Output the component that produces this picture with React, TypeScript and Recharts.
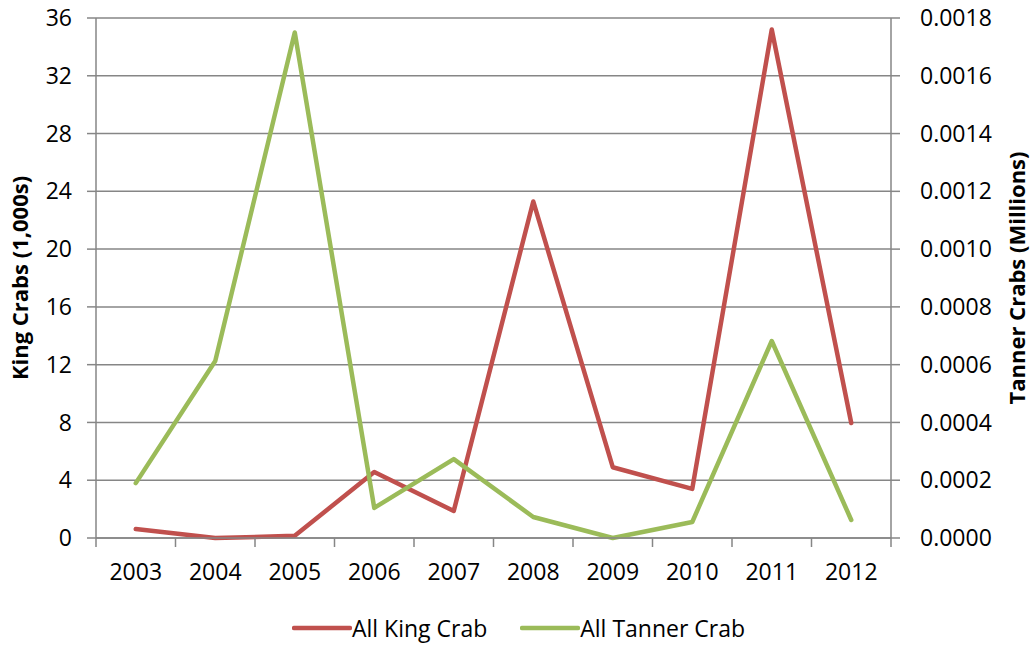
import React from "react";
import { LineChart, Line, XAxis, YAxis, CartesianGrid, Legend } from "recharts";

const years = ["2003", "2004", "2005", "2006", "2007", "2008", "2009", "2010", "2011", "2012"];
const kingCrab = [0.62, 0, 0.15, 4.57, 1.87, 23.3, 4.9, 3.4, 35.2, 7.96];
const tannerCrab = [0.00019, 0.000613, 0.00175, 0.000104, 0.000273, 0.0000727, 0, 0.0000554, 0.000682, 0.0000623];
const kingTicks = [0, 4, 8, 12, 16, 20, 24, 28, 32, 36];
const tannerTicks = [0, 0.0002, 0.0004, 0.0006, 0.0008, 0.001, 0.0012, 0.0014, 0.0016, 0.0018];

const data = years.map((year, i) => ({ year, king: kingCrab[i], tanner: tannerCrab[i] }));

const W = 1031;
const H = 646;
const LEFT_W = 96;
const RIGHT_W = 140;
const STEP = (W - LEFT_W - RIGHT_W) / years.length;
const FONT = "'Open Sans', sans-serif";
const AXIS = "#868686";
const RED = "#C0504D";
const GREEN = "#9BBB59";

const XTick = (props: any) => {
  const { x, y, payload, index } = props;
  const last = index === years.length - 1;
  return (
    <g>
      <line x1={x - STEP / 2} x2={x - STEP / 2} y1={y} y2={y + 9} stroke={AXIS} strokeWidth={1.5} />
      {last && <line x1={x + STEP / 2} x2={x + STEP / 2} y1={y} y2={y + 9} stroke={AXIS} strokeWidth={1.5} />}
      <text x={x} y={y + 26} dy="0.71em" textAnchor="middle" fontSize={23} fontFamily={FONT} fill="#000">
        {payload.value}
      </text>
    </g>
  );
};

const LegendContent = () => (
  <div style={{ height: 56, display: "flex", justifyContent: "center", alignItems: "flex-end", fontFamily: FONT, fontSize: 23, paddingLeft: 6 }}>
    {[
      { name: "All King Crab", color: RED },
      { name: "All Tanner Crab", color: GREEN },
    ].map((it, i) => (
      <div key={it.name} style={{ display: "flex", alignItems: "center", marginLeft: i ? 33 : 0, height: 36 }}>
        <svg width={60} height={10}>
          <line x1={2} x2={58} y1={5} y2={5} stroke={it.color} strokeWidth={4.5} strokeLinecap="round" />
        </svg>
        <span style={{ color: "#000" }}>{it.name}</span>
      </div>
    ))}
  </div>
);

const titleStyle = { fontFamily: FONT, fontSize: 22, fontWeight: 700, fill: "#000", textAnchor: "middle" as const };

export default function App() {
  return (
    <div>
      <style>{`body{margin:0}`}</style>
      <LineChart width={W} height={H} data={data} margin={{ top: 18, right: 0, bottom: 0, left: 0 }}>
        <CartesianGrid vertical={false} stroke={AXIS} strokeWidth={1.5} yAxisId="left" />
        <XAxis
          dataKey="year"
          height={52}
          tick={<XTick />}
          tickLine={false}
          tickSize={0}
          tickMargin={0}
          stroke={AXIS}
          strokeWidth={1.5}
          interval={0}
          padding={{ left: STEP / 2, right: STEP / 2 }}
        />
        <YAxis
          yAxisId="left"
          width={LEFT_W}
          domain={[0, 36]}
          ticks={kingTicks}
          tickSize={9}
          tickMargin={15}
          stroke={AXIS}
          strokeWidth={1.5}
          tick={{ fill: "#000", fontSize: 23, fontFamily: FONT }}
          label={{ value: "King Crabs (1,000s)", angle: -90, position: "center", dx: -28, style: titleStyle }}
        />
        <YAxis
          yAxisId="right"
          orientation="right"
          width={RIGHT_W}
          domain={[0, 0.0018]}
          ticks={tannerTicks}
          tickFormatter={(v: number) => v.toFixed(4)}
          tickSize={9}
          tickMargin={20}
          stroke={AXIS}
          strokeWidth={1.5}
          tick={{ fill: "#000", fontSize: 23, fontFamily: FONT }}
          label={{ value: "Tanner Crabs (Millions)", angle: -90, position: "center", dx: 56, style: titleStyle }}
        />
        <Legend verticalAlign="bottom" content={<LegendContent />} />
        <Line
          yAxisId="left"
          type="linear"
          dataKey="king"
          name="All King Crab"
          stroke={RED}
          strokeWidth={4.5}
          strokeLinecap="round"
          strokeLinejoin="round"
          dot={false}
          isAnimationActive={false}
        />
        <Line
          yAxisId="right"
          type="linear"
          dataKey="tanner"
          name="All Tanner Crab"
          stroke={GREEN}
          strokeWidth={4.5}
          strokeLinecap="round"
          strokeLinejoin="round"
          dot={false}
          isAnimationActive={false}
        />
      </LineChart>
    </div>
  );
}
